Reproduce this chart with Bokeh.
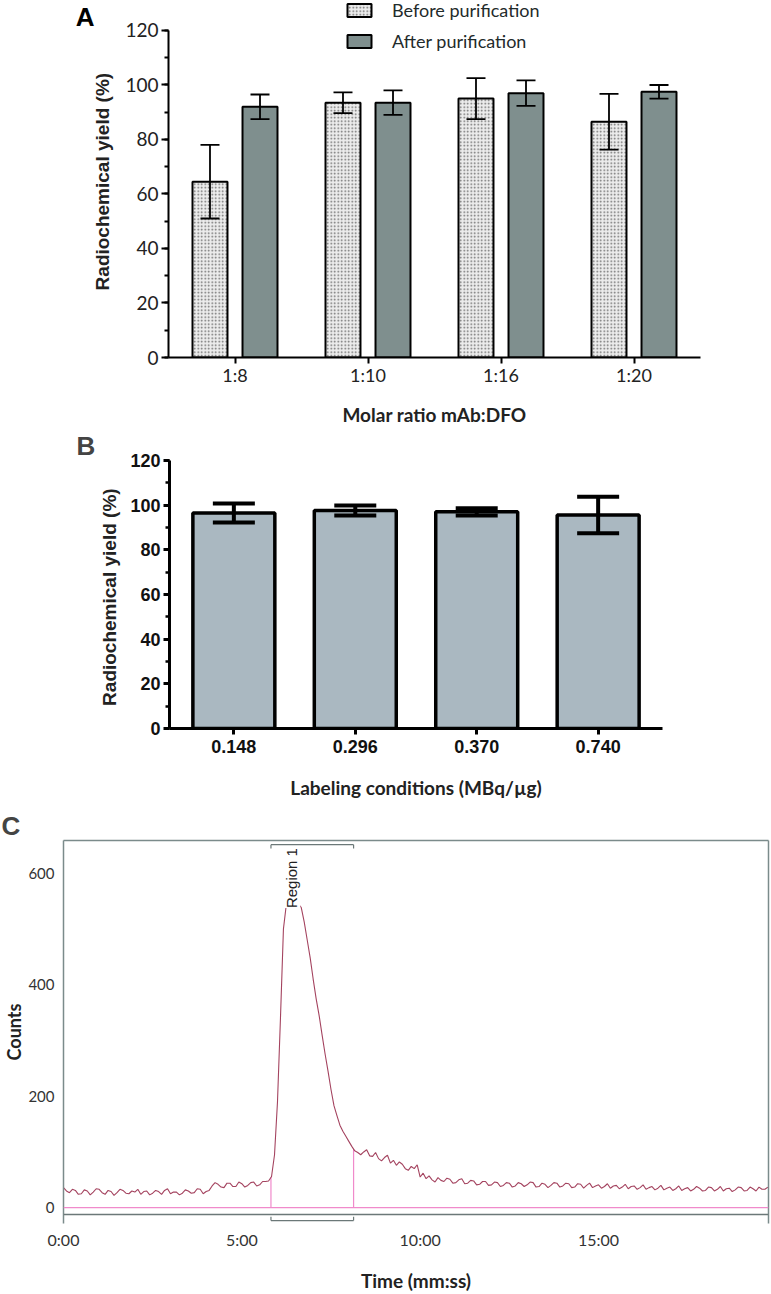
import numpy as np
from math import pi
from bokeh.plotting import figure
from bokeh.models import (FactorRange, Range1d, Whisker, ColumnDataSource, Legend, LegendItem,
                          SingleIntervalTicker, FixedTicker, Label, Span, LinearAxis)
from bokeh.transform import dodge
from bokeh.layouts import column
from bokeh.embed import file_html
from bokeh.resources import INLINE

# ---------------- data ----------------
ratios = ["1:8", "1:10", "1:16", "1:20"]
before_mean = [64.5, 93.5, 95.0, 86.5]
before_err = [13.5, 3.8, 7.5, 10.2]
after_mean = [92.0, 93.5, 97.0, 97.5]
after_err = [4.5, 4.5, 4.7, 2.5]

conditions = ["0.148", "0.296", "0.370", "0.740"]
cond_mean = [96.5, 97.6, 97.0, 95.6]
cond_err = [4.3, 2.2, 1.6, 8.2]

time_s = [0, 5, 10, 15, 20, 25, 30, 35, 40, 45, 50, 55, 60, 65, 70, 75, 80, 85, 90, 95,
          100, 105, 110, 115, 120, 125, 130, 135, 140, 145, 150, 155, 160, 165, 170, 175, 180, 185, 190, 195,
          200, 205, 210, 215, 220, 225, 230, 235, 240, 245, 250, 255, 260, 265, 270, 275, 280, 285, 290, 295,
          300, 305, 310, 315, 320, 325, 330, 335, 340, 345, 350, 355, 360, 365, 370, 375, 380, 385, 390, 395,
          400, 405, 410, 415, 420, 425, 430, 435, 440, 445, 450, 455, 460, 465, 470, 475, 480, 485, 490, 495,
          500, 505, 510, 515, 520, 525, 530, 535, 540, 545, 550, 555, 560, 565, 570, 575, 580, 585, 590, 595,
          600, 605, 610, 615, 620, 625, 630, 635, 640, 645, 650, 655, 660, 665, 670, 675, 680, 685, 690, 695,
          700, 705, 710, 715, 720, 725, 730, 735, 740, 745, 750, 755, 760, 765, 770, 775, 780, 785, 790, 795,
          800, 805, 810, 815, 820, 825, 830, 835, 840, 845, 850, 855, 860, 865, 870, 875, 880, 885, 890, 895,
          900, 905, 910, 915, 920, 925, 930, 935, 940, 945, 950, 955, 960, 965, 970, 975, 980, 985, 990, 995,
          1000, 1005, 1010, 1015, 1020, 1025, 1030, 1035, 1040, 1045, 1050, 1055, 1060, 1065, 1070, 1075,
          1080, 1085, 1090, 1095, 1100, 1105, 1110, 1115, 1120, 1125, 1130, 1135, 1140, 1145, 1150, 1155,
          1160, 1165, 1170, 1175, 1180, 1185]
counts = [36, 30, 27, 33, 31, 24, 25, 32, 30, 23, 28, 34, 33, 27, 24, 31, 29, 22, 27, 33,
          31, 26, 25, 30, 28, 33, 24, 29, 30, 23, 26, 31, 29, 24, 31, 34, 25, 28, 28, 23,
          26, 32, 30, 26, 27, 34, 33, 25, 29, 31, 39, 45, 42, 37, 36, 44, 44, 38, 38, 46,
          43, 37, 40, 45, 46, 39, 41, 47, 47, 48, 56, 95, 190, 340, 500, 545, 552, 550, 548, 545,
          538, 512, 480, 448, 410, 375, 345, 310, 276, 245, 212, 183, 165, 148, 137, 128, 119, 110, 102, 99,
          95, 100, 104, 93, 92, 99, 88, 84, 90, 94, 80, 85, 76, 82, 78, 70, 67, 74, 70, 77,
          55, 62, 52, 57, 50, 46, 54, 49, 47, 53, 51, 44, 45, 50, 52, 43, 44, 49, 48, 41,
          42, 47, 47, 40, 41, 46, 45, 38, 40, 45, 44, 37, 39, 45, 43, 38, 41, 46, 45, 37,
          38, 44, 42, 36, 40, 45, 44, 37, 39, 44, 43, 36, 37, 43, 42, 35, 40, 44, 36, 39,
          41, 35, 38, 43, 35, 39, 40, 34, 37, 42, 34, 38, 39, 33, 36, 41, 33, 36, 38, 32,
          35, 40, 32, 35, 37, 31, 34, 39, 31, 34, 36, 30, 33, 38, 35, 30,
          31, 37, 36, 30, 33, 38, 30, 34, 35, 29, 32, 37, 36, 30, 31, 37,
          34, 30, 37, 33, 33, 37]
region_start, region_end = 349, 488
time_ticks = [0, 300, 600, 900]
time_labels = ["0:00", "5:00", "10:00", "15:00"]
count_ticks = [0, 200, 400, 600]

W = 771


def style_common(p):
    p.grid.visible = False
    p.outline_line_color = None
    p.background_fill_color = "white"
    p.border_fill_color = "white"
    try:
        p.frame_align = False
    except Exception:
        pass


def style_title(p, off):
    p.title.text_font = "Liberation Sans"
    p.title.text_font_style = "bold"
    p.title.text_font_size = "26px"
    p.title.align = "left"
    p.title.offset = off
    p.title.standoff = 0


# ---------------- Panel A ----------------
pa = figure(width=W, height=428, x_range=FactorRange(*ratios, range_padding=0),
            y_range=Range1d(0, 131.0), output_backend="svg", toolbar_location=None,
            min_border_left=168, min_border_right=71, min_border_top=0, min_border_bottom=71)
style_common(pa)
src_a = ColumnDataSource(dict(
    ratio=ratios, before=before_mean, after=after_mean,
    b_lo=[m - e for m, e in zip(before_mean, before_err)],
    b_hi=[m + e for m, e in zip(before_mean, before_err)],
    a_lo=[m - e for m, e in zip(after_mean, after_err)],
    a_hi=[m + e for m, e in zip(after_mean, after_err)]))
rb = pa.vbar(x=dodge('ratio', -0.188, range=pa.x_range), top='before', width=0.263, source=src_a,
             fill_color="#ececec", line_color="black", line_width=2,
             hatch_pattern="dot", hatch_color="#6a6a6a", hatch_scale=3.5, hatch_weight=1.2)
ra = pa.vbar(x=dodge('ratio', 0.188, range=pa.x_range), top='after', width=0.263, source=src_a,
             fill_color="#7f8f8e", line_color="black", line_width=2)
for base_off, lo, hi in [(-0.188, 'b_lo', 'b_hi'), (0.188, 'a_lo', 'a_hi')]:
    w = Whisker(base=dodge('ratio', base_off, range=pa.x_range), lower=lo, upper=hi, source=src_a,
                line_color="black", line_width=1.8, level="annotation")
    w.upper_head.size = 19
    w.lower_head.size = 19
    w.upper_head.line_width = 1.8
    w.lower_head.line_width = 1.8
    pa.add_layout(w)

legend = Legend(items=[LegendItem(label="Before purification", renderers=[rb]),
                       LegendItem(label="After purification", renderers=[ra])],
                location=(176, 305), orientation="vertical", border_line_color=None,
                background_fill_alpha=0, padding=0, margin=0, spacing=9,
                glyph_width=30, glyph_height=16, label_standoff=18, label_height=16,
                label_text_font="Lato", label_text_font_size="18px", label_text_color="#1f2b2b")
pa.add_layout(legend)

ya = pa.yaxis[0]
ya.ticker = SingleIntervalTicker(interval=20, num_minor_ticks=2)
ya.bounds = (0, 120)
ya.axis_line_width = 2
ya.major_tick_line_width = 2
ya.major_tick_out = 7
ya.major_tick_in = 0
ya.minor_tick_out = 4
ya.minor_tick_in = 0
ya.minor_tick_line_width = 2
ya.major_label_text_font = "Lato"
ya.major_label_text_font_size = "19px"
ya.major_label_text_color = "#222222"
ya.major_label_standoff = 3
ya.axis_label = "Radiochemical yield  (%)"
ya.axis_label_text_font = "Liberation Sans"
ya.axis_label_text_font_style = "bold"
ya.axis_label_text_font_size = "19px"
ya.axis_label_text_color = "#222222"
ya.axis_label_standoff = 9

# panel letter "A" carried by an outer, line-less axis
letter_a = LinearAxis(ticker=FixedTicker(ticks=[126.2]), major_label_overrides={126.2: "A"},
                      axis_line_color=None, major_tick_line_color=None, minor_tick_line_color=None,
                      major_label_text_font="Liberation Sans", major_label_text_font_style="bold",
                      major_label_text_font_size="26px", major_label_text_color="black",
                      major_label_standoff=-11)
pa.add_layout(letter_a, "left")

xa = pa.xaxis[0]
xa.axis_line_width = 2
xa.major_tick_line_width = 2
xa.major_tick_out = 6
xa.major_tick_in = 0
xa.major_label_text_font = "Lato"
xa.major_label_text_font_size = "18px"
xa.major_label_text_color = "#222222"
xa.major_label_standoff = 0
xa.axis_label = "Molar ratio mAb:DFO"
xa.axis_label_text_font = "Lato"
xa.axis_label_text_font_style = "bold"
xa.axis_label_text_font_size = "19px"
xa.axis_label_text_color = "#222222"
xa.axis_label_standoff = 14

# ---------------- Panel B ----------------
pb = figure(width=W, height=380, title="B",
            x_range=FactorRange(*conditions, range_padding=0.03, range_padding_units="absolute"),
            y_range=Range1d(0, 120), output_backend="svg", toolbar_location=None,
            min_border_left=169, min_border_right=109, min_border_top=28, min_border_bottom=80)
style_common(pb)
style_title(pb, -93)
src_b = ColumnDataSource(dict(cond=conditions, mean=cond_mean,
                              lo=[m - e for m, e in zip(cond_mean, cond_err)],
                              hi=[m + e for m, e in zip(cond_mean, cond_err)]))
pb.vbar(x='cond', top='mean', width=0.675, source=src_b, fill_color="#aab8c1",
        line_color="black", line_width=3.5)
wb = Whisker(base='cond', lower='lo', upper='hi', source=src_b, line_color="black", line_width=4,
             level="annotation")
wb.upper_head.size = 42
wb.lower_head.size = 42
wb.upper_head.line_width = 4
wb.lower_head.line_width = 4
pb.add_layout(wb)

yb = pb.yaxis[0]
yb.ticker = SingleIntervalTicker(interval=20, num_minor_ticks=2)
yb.axis_line_width = 3
yb.major_tick_line_width = 3
yb.major_tick_out = 6
yb.major_tick_in = 0
yb.minor_tick_out = 4
yb.minor_tick_in = 0
yb.minor_tick_line_width = 2.5
yb.major_label_text_font = "Liberation Sans"
yb.major_label_text_font_style = "bold"
yb.major_label_text_font_size = "18px"
yb.major_label_text_color = "#111111"
yb.major_label_standoff = 3
yb.axis_label = "Radiochemical yield  (%)"
yb.axis_label_text_font = "Liberation Sans"
yb.axis_label_text_font_style = "bold"
yb.axis_label_text_font_size = "19px"
yb.axis_label_text_color = "#222222"
yb.axis_label_standoff = 7

xb = pb.xaxis[0]
xb.axis_line_width = 3
xb.major_tick_line_width = 3
xb.major_tick_out = 6
xb.major_tick_in = 0
xb.major_label_text_font = "Liberation Sans"
xb.major_label_text_font_style = "bold"
xb.major_label_text_font_size = "18px"
xb.major_label_text_color = "#111111"
xb.major_label_standoff = 5
xb.axis_label = "Labeling conditions (MBq/µg)"
xb.axis_label_text_font = "Lato"
xb.axis_label_text_font_style = "bold"
xb.axis_label_text_font_size = "19px"
xb.axis_label_text_color = "#222222"
xb.axis_label_standoff = 20

# ---------------- Panel C ----------------
pc = figure(width=W, height=486, title="C", x_range=Range1d(0, 1186),
            y_range=Range1d(-28.3, 658.4), output_backend="svg", toolbar_location=None,
            min_border_left=62, min_border_right=3, min_border_top=31, min_border_bottom=67)
style_common(pc)
style_title(pc, -62)

frame_col = "#7b8b8b"
pink = "#f08acb"

pc.add_layout(Span(location=0, dimension="width", line_color=pink, line_width=1.2))
pc.add_layout(Span(location=-12, dimension="width", line_color="#6b7878", line_width=1.5))

h_start = float(np.interp(region_start, time_s, counts))
h_end = float(np.interp(region_end, time_s, counts))
pc.segment(x0=[region_start, region_end], y0=[0, 0], x1=[region_start, region_end],
           y1=[h_start, h_end], line_color=pink, line_width=1.2)
pc.line(time_s, counts, line_color="#a4435f", line_width=1.1)

br_top, br_bot = 651, -23
pc.segment(x0=[region_start, region_start, region_end], y0=[br_top, br_top, br_top],
           x1=[region_end, region_start, region_end], y1=[br_top, br_top - 7, br_top - 7],
           line_color="#6b7878", line_width=1.2)
pc.segment(x0=[region_start, region_start, region_end], y0=[br_bot, br_bot, br_bot],
           x1=[region_end, region_start, region_end], y1=[br_bot, br_bot + 7, br_bot + 7],
           line_color="#6b7878", line_width=1.2)
pc.add_layout(Label(x=384, y=591, text="Region 1", angle=pi / 2, text_align="center",
                    text_baseline="middle", text_font="Liberation Sans", text_font_size="15px",
                    text_color="#222222", background_fill_color="white"))

yc = pc.yaxis[0]
yc.ticker = FixedTicker(ticks=count_ticks)
yc.axis_line_color = frame_col
yc.axis_line_width = 1.5
yc.major_tick_line_color = None
yc.minor_tick_line_color = None
yc.major_label_text_font = "Lato"
yc.major_label_text_font_size = "15px"
yc.major_label_text_color = "#333333"
yc.major_label_standoff = 3
yc.axis_label = "Counts"
yc.axis_label_text_font = "Lato"
yc.axis_label_text_font_style = "bold"
yc.axis_label_text_font_size = "18px"
yc.axis_label_text_color = "#222222"
yc.axis_label_standoff = 0

xc = pc.xaxis[0]
xc.ticker = FixedTicker(ticks=time_ticks)
xc.major_label_overrides = {t: l for t, l in zip(time_ticks, time_labels)}
xc.axis_line_color = None
xc.major_tick_line_color = None
xc.minor_tick_line_color = None
xc.major_label_text_font = "Lato"
xc.major_label_text_font_size = "16px"
xc.major_label_text_color = "#333333"
xc.major_label_standoff = 0
xc.axis_label = "Time (mm:ss)"
xc.axis_label_text_font = "Lato"
xc.axis_label_text_font_style = "bold"
xc.axis_label_text_font_size = "19px"
xc.axis_label_text_color = "#222222"
xc.axis_label_standoff = 17

for place in ["above", "right"]:
    ax = LinearAxis(axis_line_color=frame_col, axis_line_width=1.5, major_tick_line_color=None,
                    minor_tick_line_color=None, major_label_text_font_size="0px",
                    major_label_standoff=0, ticker=FixedTicker(ticks=[]))
    pc.add_layout(ax, place)

layout = column(pa, pb, pc, spacing=0)
open("out.html", "w").write(file_html(layout, INLINE))
